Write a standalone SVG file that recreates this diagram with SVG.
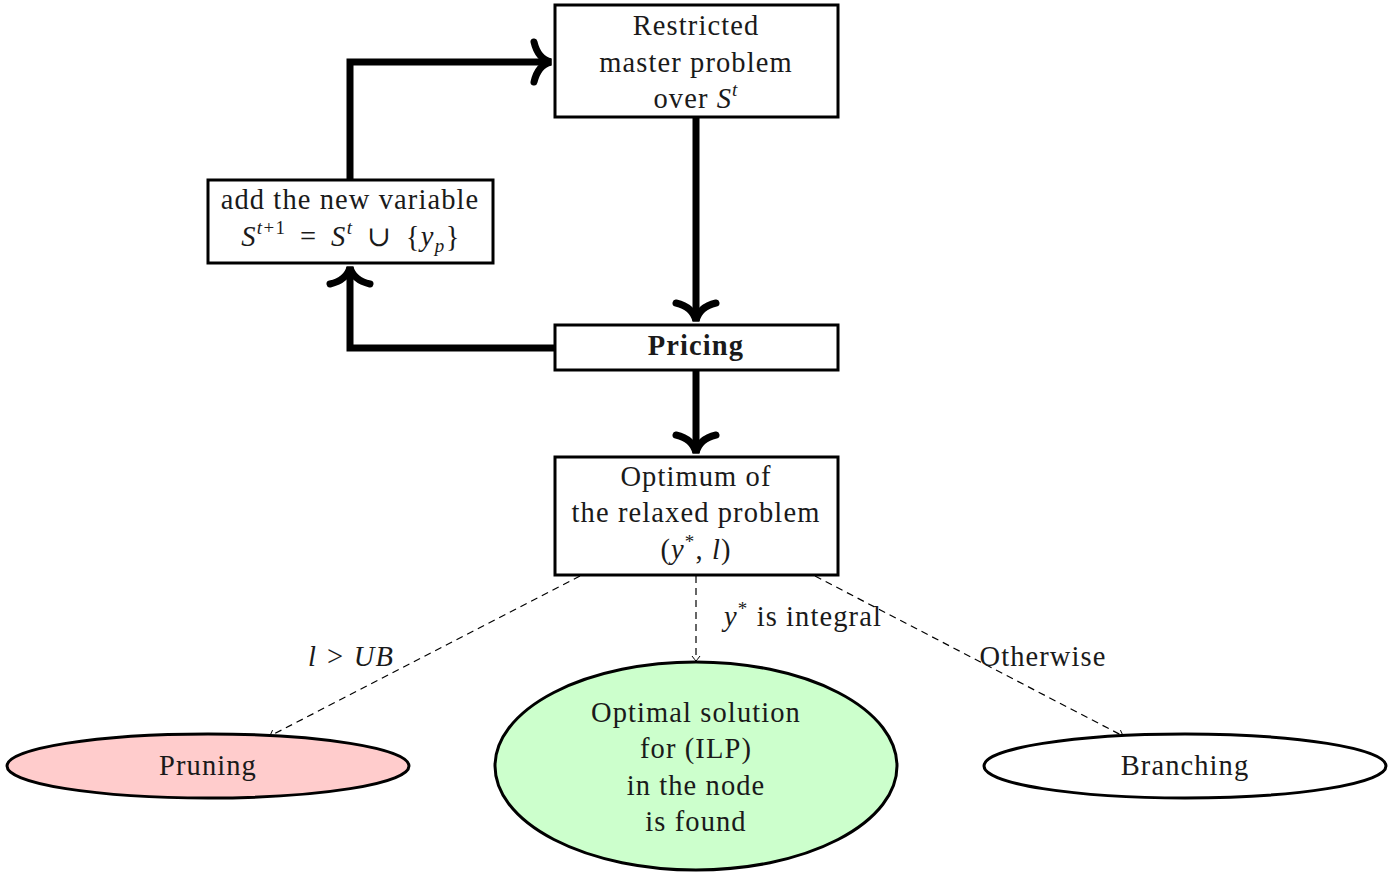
<svg xmlns="http://www.w3.org/2000/svg" width="1397" height="873" viewBox="0 0 1397 873">
<defs>
<marker id="sm" viewBox="-6 -5 8 10" markerWidth="8" markerHeight="10" refX="0" refY="0" orient="auto" markerUnits="userSpaceOnUse">
<path d="M-5,-4 Q-1,-1 0,0 Q-1,1 -5,4" fill="none" stroke="#000" stroke-width="1"/>
</marker>
</defs>
<style>
.box{fill:#fff;stroke:#000;stroke-width:3}
.ell{stroke:#000;stroke-width:3}
text{font-family:"Liberation Serif","DejaVu Serif",serif;font-size:28.5px;letter-spacing:1.1px;fill:#1a1a1a;text-anchor:middle}
.it{font-style:italic}
.thick{fill:none;stroke:#000;stroke-width:7;stroke-linejoin:miter}
.head{fill:none;stroke:#000;stroke-width:7;stroke-linecap:round}
.dash{fill:none;stroke:#000;stroke-width:1.2;stroke-dasharray:7,5}
.sup{font-size:19px}
.star{font-size:19px}
.math{letter-spacing:1.4px;word-spacing:5px}
</style>
<g id="connectors">
<path class="thick" d="M696,117 V321"/>
<path class="head" d="M676,303 Q693,307 696,321 Q699,307 716,303"/>
<path class="thick" d="M696,370 V453"/>
<path class="head" d="M676,435 Q693,439 696,453 Q699,439 716,435"/>
<path class="thick" d="M555,348 H350 V267"/>
<path class="head" d="M330,284 Q347,280 350,267 Q353,280 370,284"/>
<path class="thick" d="M350,180 V62 H551"/>
<path class="head" d="M534,42 Q538,59 551,62 Q538,65 534,82"/>
<path class="dash" d="M580,576 L270,736" marker-end="url(#sm)"/>
<path class="dash" d="M696,576 V661" marker-end="url(#sm)"/>
<path class="dash" d="M815,576 L1123,736" marker-end="url(#sm)"/>
<text x="351" y="666" class="it">l &gt; UB</text>
<text x="803" y="626"><tspan class="it">y</tspan><tspan class="star" dy="-11">*</tspan><tspan dy="11"> is integral</tspan></text>
<text x="1043" y="666">Otherwise</text>
</g>
<g id="rmp">
<rect class="box" x="555" y="5" width="283" height="112"/>
<text x="696" y="35">Restricted</text>
<text x="696" y="72">master problem</text>
<text x="696" y="108">over <tspan class="it">S</tspan><tspan class="it sup" dy="-12">t</tspan></text>
</g>
<g id="add">
<rect class="box" x="208" y="180" width="285" height="83"/>
<text x="350" y="209">add the new variable</text>
<text x="351" y="246" class="math"><tspan class="it">S</tspan><tspan class="it sup" dy="-12">t</tspan><tspan class="sup">+1</tspan><tspan dy="12"> = </tspan><tspan class="it">S</tspan><tspan class="it sup" dy="-12">t</tspan><tspan dy="12"> ∪ {</tspan><tspan class="it">y</tspan><tspan class="it sup" dy="6">p</tspan><tspan dy="-6">}</tspan></text>
</g>
<g id="pricing">
<rect class="box" x="555" y="325" width="283" height="45"/>
<text x="696" y="355" font-weight="bold">Pricing</text>
</g>
<g id="optimum">
<rect class="box" x="555" y="457" width="283" height="118"/>
<text x="696" y="486">Optimum of</text>
<text x="696" y="522">the relaxed problem</text>
<text x="696" y="559">(<tspan class="it">y</tspan><tspan class="star" dy="-11">*</tspan><tspan dy="11">, </tspan><tspan class="it">l</tspan>)</text>
</g>
<g id="pruning">
<ellipse class="ell" cx="208" cy="766" rx="201" ry="32" fill="#ffcccc"/>
<text x="208" y="775">Pruning</text>
</g>
<g id="optimal">
<ellipse class="ell" cx="696" cy="766" rx="201" ry="104" fill="#ccffcc"/>
<text x="696" y="722">Optimal solution</text>
<text x="696" y="758">for (ILP)</text>
<text x="696" y="795">in the node</text>
<text x="696" y="831">is found</text>
</g>
<g id="branching">
<ellipse class="ell" cx="1185" cy="766" rx="201" ry="32" fill="#fff"/>
<text x="1185" y="775">Branching</text>
</g>
</svg>
